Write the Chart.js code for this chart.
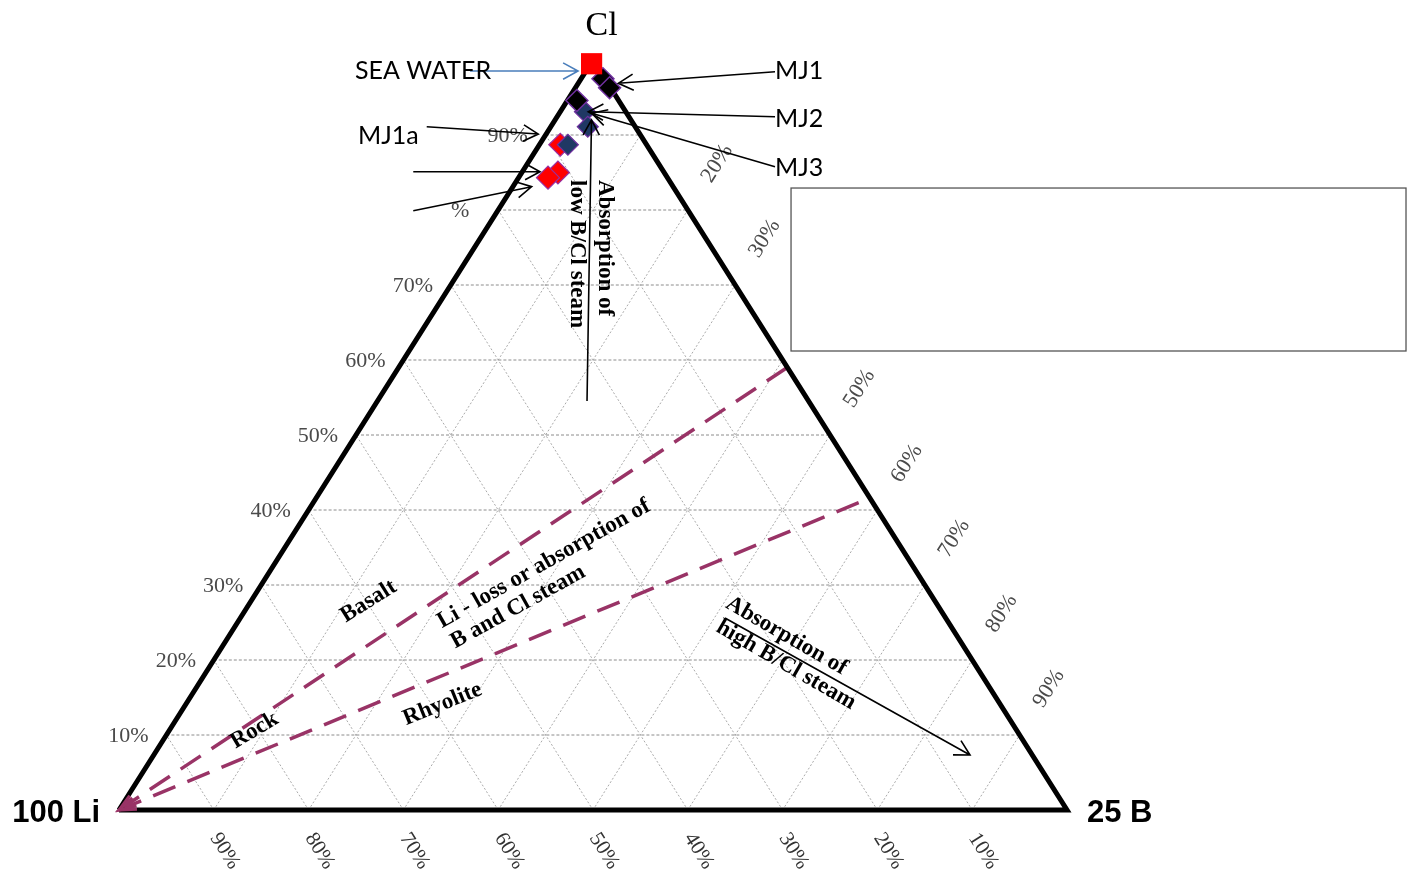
<!DOCTYPE html>
<html>
<head>
  <meta charset="UTF-8" />
  <title>Li - B - Cl</title>
  <script src="https://cdn.jsdelivr.net/npm/chart.js"></script>
  <style>
    body {
      margin: 0;
      background-color: #ffffff;
    }
    #wrap {
      width: 1408px;
      height: 876px;
    }
  </style>
</head>
<body>
  <div id="wrap"><canvas id="chart" width="1408" height="876"></canvas></div>

  <script>
    // sample compositions in % as [Li, B, Cl] (B scaled x25)
    const seaWater = [[0.4, 0.1, 99.5]];
    const groupBlack = [[0.2, 2.3, 97.5], [0.1, 3.6, 96.3], [4.4, 1.0, 94.6]];
    const groupBlue = [[4.3, 2.6, 93.1], [5.0, 3.9, 91.1], [8.3, 3.0, 88.7]];
    const groupRed = [[9.1, 2.2, 88.7], [11.2, 3.8, 85.0], [12.6, 3.1, 84.4]];

    // rock dissolution trends from the Li corner to the B-Cl side
    const basaltTrend = [[100, 0, 0], [0, 41.0, 59.0]];
    const rhyoliteTrend = [[100, 0, 0], [0, 58.4, 41.6]];

    // triangle frame: Li corner, B corner, Cl corner
    const frame = [[100, 0, 0], [0, 100, 0], [0, 0, 100], [100, 0, 0]];

    const gridSteps = [10, 20, 30, 40, 50, 60, 70, 80, 90];
    const clTickLabels = ['10%', '20%', '30%', '40%', '50%', '60%', '70%', '%', '90%'];
    const bTickLabels = ['', '20%', '30%', '', '50%', '60%', '70%', '80%', '90%'];
    const liTickLabels = ['10%', '20%', '30%', '40%', '50%', '60%', '70%', '80%', '90%'];

    // [Li, B, Cl] -> plane position (x along the base, y = Cl share)
    function tern(row) {
      const s = row[0] + row[1] + row[2];
      return { x: (row[1] + row[2] / 2) / s, y: row[2] / s };
    }
    const toXY = rows => rows.map(tern);

    // arrows and notes, in plane units
    const arrows = [
      { from: [0.3703, 0.9853], to: [0.4842, 0.9853], color: '#4a7ebb', width: 1.6 },
      { from: [0.6920, 0.9844], to: [0.5267, 0.9689] },
      { from: [0.6920, 0.9244], to: [0.4950, 0.9311] },
      { from: [0.6920, 0.8578], to: [0.4986, 0.9289] },
      { from: [0.3246, 0.9111], to: [0.4423, 0.9013] },
      { from: [0.3104, 0.8511], to: [0.4441, 0.8511] },
      { from: [0.3104, 0.7991], to: [0.4353, 0.8311] },
      { from: [0.4937, 0.5453], to: [0.4984, 0.9200] },
      { from: [0.6392, 0.2560], to: [0.8977, 0.0733] }
    ];

    const sampleNames = [
      { text: 'SEA WATER', at: [0.2489, 0.9747] },
      { text: 'MJ1', at: [0.6920, 0.9747] },
      { text: 'MJ2', at: [0.6920, 0.9107] },
      { text: 'MJ3', at: [0.6920, 0.8453] },
      { text: 'MJ1a', at: [0.2521, 0.8880] }
    ];

    const notes = [
      { text: 'Absorption of', at: [0.5127, 0.8400], rot: 90, align: 'left' },
      { text: 'low B/Cl steam', at: [0.4831, 0.8400], rot: 90, align: 'left' },
      { text: 'Basalt', at: [0.2633, 0.2780], rot: -32 },
      { text: 'Li - loss or absorption of', at: [0.4481, 0.3283], rot: -29.5 },
      { text: 'B and Cl steam', at: [0.4209, 0.2707], rot: -29 },
      { text: 'Rock', at: [0.1429, 0.1059], rot: -31 },
      { text: 'Rhyolite', at: [0.3413, 0.1411], rot: -22 },
      { text: 'Absorption of', at: [0.7041, 0.2320], rot: 30 },
      { text: 'high B/Cl steam', at: [0.7036, 0.1933], rot: 30 }
    ];

    function drawArrow(ctx, x1, y1, x2, y2, color, width, head) {
      const a = Math.atan2(y2 - y1, x2 - x1);
      ctx.save();
      ctx.strokeStyle = color;
      ctx.lineWidth = width;
      ctx.beginPath();
      ctx.moveTo(x1, y1);
      ctx.lineTo(x2, y2);
      ctx.moveTo(x2 - head * Math.cos(a - 0.5), y2 - head * Math.sin(a - 0.5));
      ctx.lineTo(x2, y2);
      ctx.lineTo(x2 - head * Math.cos(a + 0.5), y2 - head * Math.sin(a + 0.5));
      ctx.stroke();
      ctx.restore();
    }

    // dotted grid and percentage labels on the three sides
    const ternaryGrid = {
      id: 'ternaryGrid',
      beforeDatasetsDraw(chart) {
        const ctx = chart.ctx;
        const xs = chart.scales.x, ys = chart.scales.y;
        const P = r => { const p = tern(r); return [xs.getPixelForValue(p.x), ys.getPixelForValue(p.y)]; };
        ctx.save();
        ctx.lineWidth = 1;
        gridSteps.forEach(k => {
          const c = 100 - k;
          // constant Cl
          ctx.strokeStyle = '#8c8c8c';
          ctx.setLineDash([3, 2]);
          let a = P([c, 0, k]), b = P([0, c, k]);
          ctx.beginPath(); ctx.moveTo(a[0], a[1]); ctx.lineTo(b[0], b[1]); ctx.stroke();
          // constant B and constant Li
          ctx.strokeStyle = '#aaaaaa';
          ctx.setLineDash([2, 2]);
          a = P([c, k, 0]); b = P([0, k, c]);
          ctx.beginPath(); ctx.moveTo(a[0], a[1]); ctx.lineTo(b[0], b[1]); ctx.stroke();
          a = P([k, c, 0]); b = P([k, 0, c]);
          ctx.beginPath(); ctx.moveTo(a[0], a[1]); ctx.lineTo(b[0], b[1]); ctx.stroke();
        });
        ctx.setLineDash([]);

        const top = P([0, 0, 100]), right = P([0, 100, 0]);
        const edgeAng = Math.atan2(right[1] - top[1], right[0] - top[0]);
        const ux = Math.cos(edgeAng), uy = Math.sin(edgeAng);

        ctx.textAlign = 'center';
        ctx.textBaseline = 'middle';
        ctx.fillStyle = '#4a4a4a';
        ctx.font = '22px "Liberation Serif", serif';
        gridSteps.forEach((k, i) => {
          // Cl side
          const pl = P([100 - k, 0, k]);
          ctx.fillText(clTickLabels[i], pl[0] - 38, pl[1] + 1);
          // B side, along the extension of the constant-B line
          const pr = P([0, k, 100 - k]);
          if (bTickLabels[i]) {
            ctx.save();
            ctx.translate(pr[0] + 55 * ux, pr[1] - 55 * uy);
            ctx.rotate(-edgeAng);
            ctx.fillText(bTickLabels[i], 0, 0);
            ctx.restore();
          }
        });
        // Li side
        ctx.font = '21px "Liberation Serif", serif';
        ctx.fillStyle = '#333333';
        gridSteps.forEach((k, i) => {
          const pb = P([k, 100 - k, 0]);
          ctx.save();
          ctx.translate(pb[0] + 11, pb[1] + 41);
          ctx.rotate(edgeAng);
          ctx.fillText(liTickLabels[i], 0, 0);
          ctx.restore();
        });
        ctx.restore();
      }
    };

    // arrows, sample names, field names and corner titles
    const annotations = {
      id: 'annotations',
      afterDatasetsDraw(chart) {
        const ctx = chart.ctx;
        const xs = chart.scales.x, ys = chart.scales.y;
        const V = v => [xs.getPixelForValue(v[0]), ys.getPixelForValue(v[1])];
        ctx.save();

        // arrowheads of the trend lines at the Li corner
        [basaltTrend, rhyoliteTrend].forEach(t => {
          const a = tern(t[1]), b = tern(t[0]);
          const p1 = V([a.x, a.y]), p2 = V([b.x, b.y]);
          const ang = Math.atan2(p2[1] - p1[1], p2[0] - p1[0]);
          ctx.strokeStyle = '#993366';
          ctx.lineWidth = 3;
          ctx.beginPath();
          ctx.moveTo(p2[0] - 18 * Math.cos(ang - 0.35), p2[1] - 18 * Math.sin(ang - 0.35));
          ctx.lineTo(p2[0], p2[1]);
          ctx.lineTo(p2[0] - 18 * Math.cos(ang + 0.35), p2[1] - 18 * Math.sin(ang + 0.35));
          ctx.stroke();
        });

        arrows.forEach(a => {
          const p1 = V(a.from), p2 = V(a.to);
          drawArrow(ctx, p1[0], p1[1], p2[0], p2[1], a.color || '#000000', a.width || 1.6, 17);
        });

        // empty legend frame
        const b1 = V([0.7089, 0.8293]), b2 = V([1.3576, 0.6120]);
        ctx.fillStyle = '#ffffff';
        ctx.fillRect(b1[0], b1[1], b2[0] - b1[0], b2[1] - b1[1]);
        ctx.strokeStyle = '#555555';
        ctx.lineWidth = 1.3;
        ctx.strokeRect(b1[0], b1[1], b2[0] - b1[0], b2[1] - b1[1]);

        ctx.fillStyle = '#000000';
        ctx.textBaseline = 'alphabetic';
        ctx.textAlign = 'left';
        ctx.font = '25px Lato, "Open Sans", sans-serif';
        sampleNames.forEach(n => {
          const p = V(n.at);
          ctx.fillText(n.text, p[0], p[1]);
        });

        ctx.font = 'bold 23px "Liberation Serif", serif';
        notes.forEach(n => {
          const p = V(n.at);
          ctx.save();
          ctx.translate(p[0], p[1]);
          ctx.rotate(n.rot * Math.PI / 180);
          ctx.textAlign = n.align || 'center';
          ctx.textBaseline = 'middle';
          ctx.fillText(n.text, 0, 0);
          ctx.restore();
        });

        // corner titles
        ctx.textBaseline = 'alphabetic';
        ctx.textAlign = 'center';
        ctx.font = '34px "Liberation Serif", serif';
        let p = V([0.509, 1.0333]);
        ctx.fillText('Cl', p[0], p[1]);
        ctx.font = 'bold 31px "Liberation Sans", Arial, sans-serif';
        ctx.textAlign = 'right';
        p = V([-0.02, -0.016]);
        ctx.fillText('100 Li', p[0], p[1]);
        ctx.textAlign = 'left';
        p = V([1.0211, -0.016]);
        ctx.fillText('25 B', p[0], p[1]);
        ctx.restore();
      }
    };

    const ctx = document.getElementById('chart').getContext('2d');
    new Chart(ctx, {
      type: 'scatter',
      data: {
        datasets: [
          {
            label: 'Sea water',
            data: toXY(seaWater),
            pointStyle: 'rect',
            pointRadius: 15,
            backgroundColor: '#ff0000',
            borderColor: '#ff0000',
            borderWidth: 0,
            clip: false,
            order: 1
          },
          {
            label: 'MJ - black',
            data: toXY(groupBlack),
            pointStyle: 'rectRot',
            pointRadius: 11,
            backgroundColor: '#000000',
            borderColor: '#7030a0',
            borderWidth: 1.5,
            clip: false,
            order: 2
          },
          {
            label: 'MJ - blue',
            data: toXY(groupBlue),
            pointStyle: 'rectRot',
            pointRadius: 10.5,
            backgroundColor: '#1f3864',
            borderColor: '#7030a0',
            borderWidth: 1.2,
            clip: false,
            order: 2
          },
          {
            label: 'MJ - red',
            data: toXY(groupRed),
            pointStyle: 'rectRot',
            pointRadius: 11.5,
            backgroundColor: '#ff0000',
            borderColor: '#9a2fa0',
            borderWidth: 1.2,
            clip: false,
            order: 3
          },
          {
            type: 'line',
            label: 'Frame',
            data: toXY(frame),
            borderColor: '#000000',
            borderWidth: 5,
            borderJoinStyle: 'miter',
            pointRadius: 0,
            clip: false,
            order: 5
          },
          {
            type: 'line',
            label: 'Basalt',
            data: toXY(basaltTrend),
            borderColor: '#993366',
            borderWidth: 3.5,
            borderDash: [24, 13],
            pointRadius: 0,
            clip: false,
            order: 6
          },
          {
            type: 'line',
            label: 'Rhyolite',
            data: toXY(rhyoliteTrend),
            borderColor: '#993366',
            borderWidth: 3.5,
            borderDash: [24, 13],
            pointRadius: 0,
            clip: false,
            order: 6
          }
        ]
      },
      options: {
        responsive: false,
        animation: false,
        layout: { padding: { left: 119, right: 341, top: 60, bottom: 66 } },
        scales: {
          x: { type: 'linear', min: 0, max: 1, display: false },
          y: { type: 'linear', min: 0, max: 1, display: false }
        },
        plugins: {
          legend: { display: false },
          tooltip: { enabled: false }
        }
      },
      plugins: [ternaryGrid, annotations]
    });
  </script>
</body>
</html>
